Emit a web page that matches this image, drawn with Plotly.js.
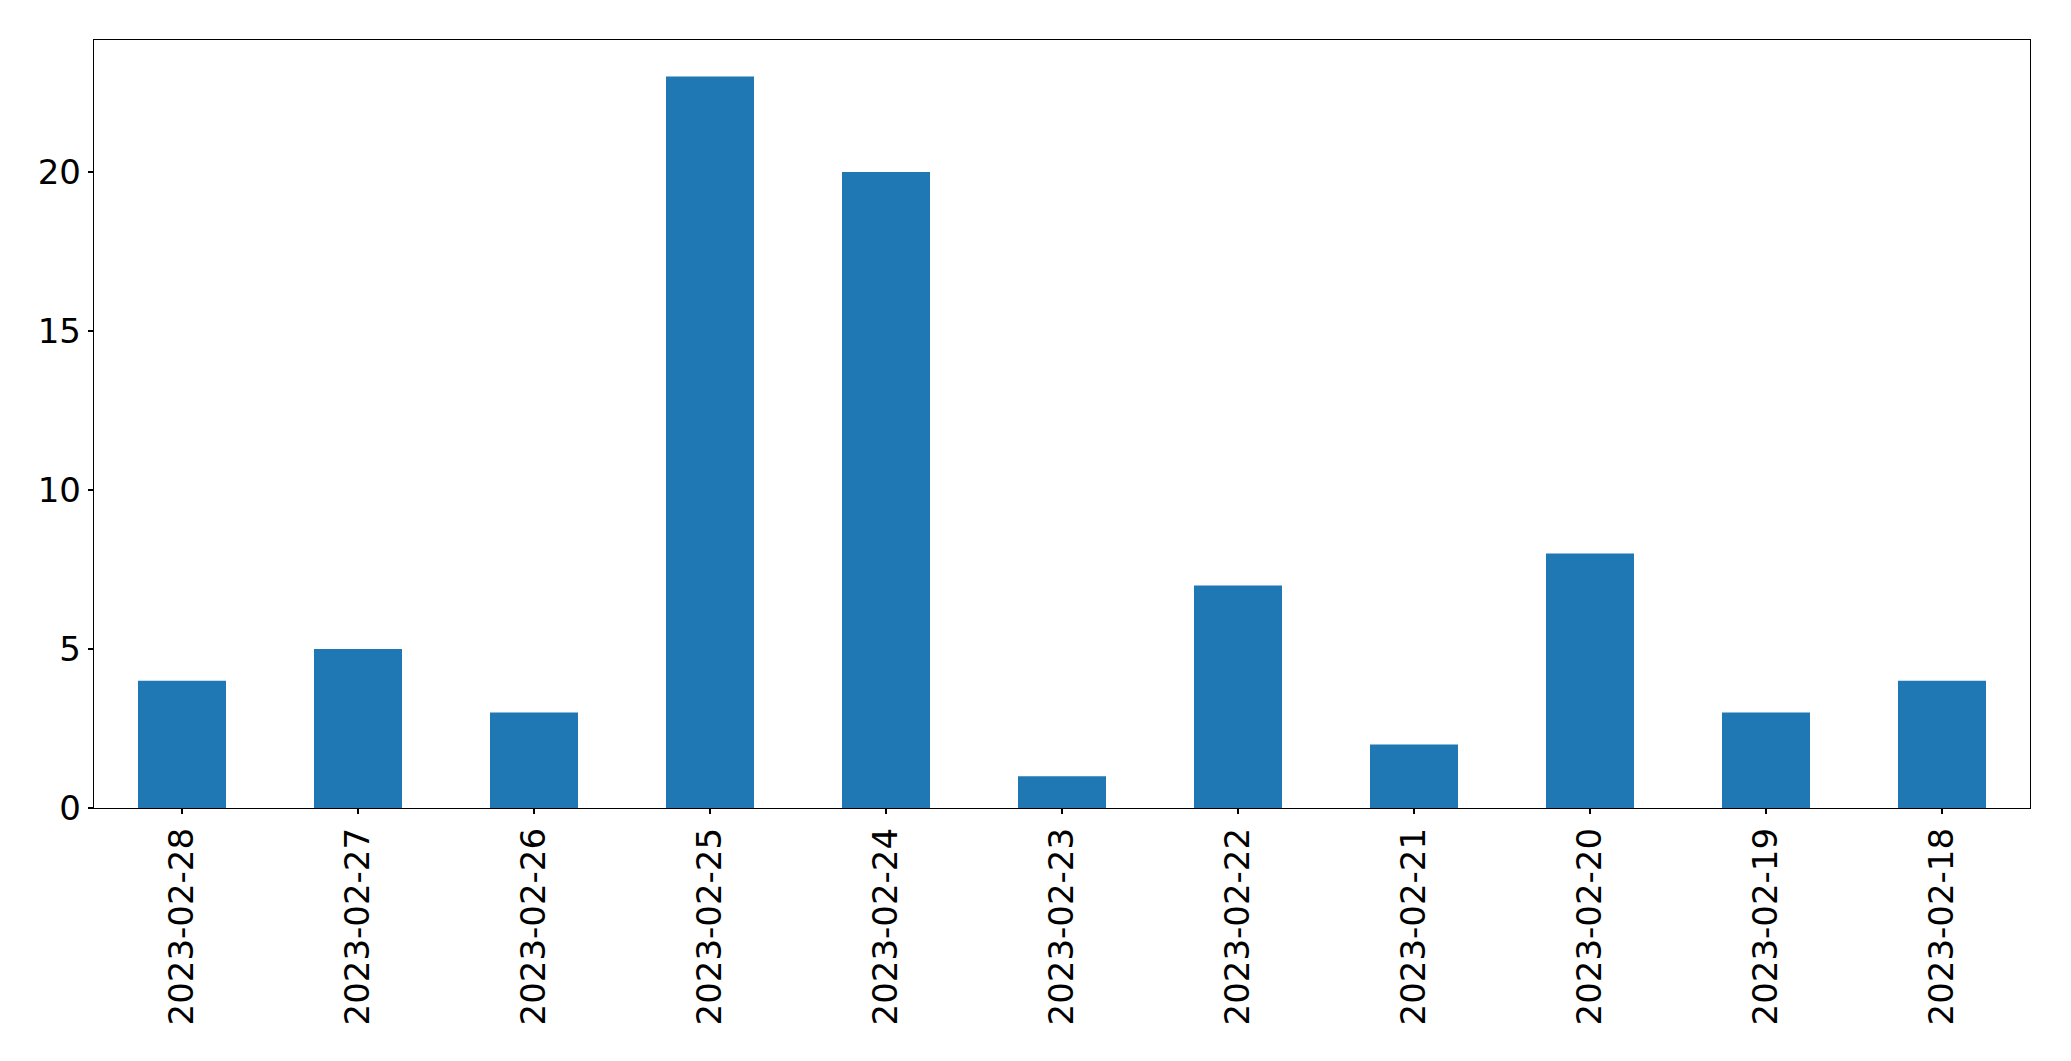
<!DOCTYPE html>
<html>
<head>
<meta charset="utf-8">
<script src="https://cdn.plot.ly/plotly-3.0.1.min.js"></script>
<style>html,body{margin:0;padding:0;background:#fff;}#chart{width:2071px;height:1061px;}</style>
</head>
<body>
<div id="chart"></div>
<script>
const dates = ["2023-02-28","2023-02-27","2023-02-26","2023-02-25","2023-02-24","2023-02-23","2023-02-22","2023-02-21","2023-02-20","2023-02-19","2023-02-18"];
const counts = [4,5,3,23,20,1,7,2,8,3,4];
const yTicks = [0,5,10,15,20];

const trace = {
  type: 'bar',
  x: dates,
  y: counts,
  width: 0.5,
  marker: {color: '#1f77b4', line: {width: 0}},
  hoverinfo: 'x+y'
};

const font = {family: 'DejaVu Sans, sans-serif', size: 34, color: '#000'};

const layout = {
  width: 2071,
  height: 1061,
  margin: {l: 94, r: 41, t: 40, b: 253},
  paper_bgcolor: '#fff',
  plot_bgcolor: '#fff',
  showlegend: false,
  font: font,
  bargap: 0.5,
  xaxis: {
    type: 'category',
    range: [-0.5, dates.length - 0.5],
    tickangle: -90,
    ticks: 'outside',
    ticklen: 5,
    tickwidth: 1.3,
    tickcolor: '#000',
    showline: true,
    linecolor: '#000',
    linewidth: 1.3,
    mirror: true,
    showgrid: false,
    zeroline: false,
    tickfont: font
  },
  yaxis: {
    range: [0, 24.15],
    tickvals: yTicks,
    ticktext: yTicks.map(String),
    ticks: 'outside',
    ticklen: 5,
    tickwidth: 1.3,
    tickcolor: '#000',
    showline: true,
    linecolor: '#000',
    linewidth: 1.3,
    mirror: true,
    showgrid: false,
    zeroline: false,
    tickfont: font
  }
};

Plotly.newPlot('chart', [trace], layout, {displayModeBar: false, staticPlot: true});
</script>
</body>
</html>
